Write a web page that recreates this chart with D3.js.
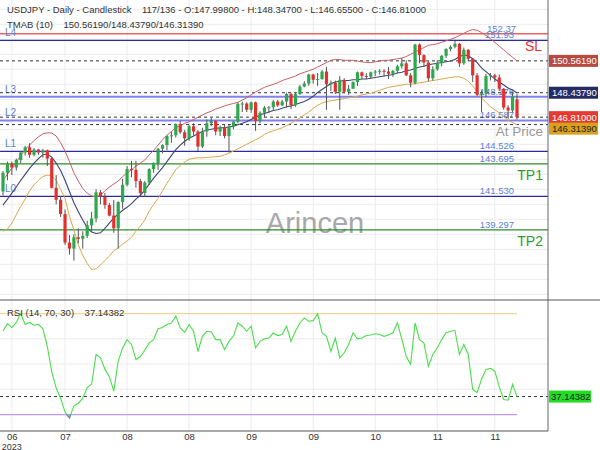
<!DOCTYPE html>
<html><head><meta charset="utf-8">
<script src="https://cdn.jsdelivr.net/npm/d3@7"></script>
<style>body{margin:0;background:#fff}svg{display:block;font-family:"Liberation Sans",Arial,sans-serif}</style>
</head><body><svg id="c" width="600" height="450"></svg>
<script>
// ---------- DATA (USDJPY daily, 117 bars) ----------
const opens = [
141.85,143.10,143.70,143.45,143.95,144.45,144.80,144.30,144.65,144.45,
144.60,144.05,142.10,141.30,140.35,138.45,138.05,138.80,138.70,138.90,
139.60,140.05,141.80,141.50,140.95,140.25,139.40,141.15,142.30,143.35,
143.30,142.55,141.75,142.45,143.35,143.75,144.70,144.95,145.55,145.60,
146.35,145.80,145.40,146.20,145.85,144.85,145.85,146.40,146.55,145.85,
146.15,145.55,146.20,146.50,147.70,147.72,147.30,147.80,146.55,147.10,
147.45,147.47,147.85,147.60,147.85,148.35,147.60,148.35,148.85,149.05,
149.65,149.30,149.35,149.85,149.00,149.10,148.50,149.30,148.50,148.70,
149.15,149.80,149.55,149.50,149.80,149.85,149.90,149.85,149.70,149.90,
150.20,150.40,149.60,149.10,151.65,150.95,150.45,149.40,150.00,150.40,
150.90,151.35,151.50,151.70,150.40,151.30,150.70,149.60,148.30,148.40,
149.55,149.60,149.45,148.70,147.45,147.25,147.998];
const highs = [
143.22,143.85,143.85,144.05,144.55,144.90,145.07,144.75,144.70,144.70,
144.65,144.15,142.95,141.55,140.65,138.95,139.00,139.40,139.20,139.90,
140.50,142.00,141.95,141.75,141.10,141.30,141.20,142.70,143.55,143.90,
143.90,142.70,142.55,143.40,143.80,144.75,145.00,145.60,145.85,146.40,
146.55,145.95,146.30,146.40,145.95,146.10,146.65,146.75,146.60,146.25,
146.30,146.30,146.55,147.80,147.85,147.80,147.85,147.85,147.20,147.55,
147.55,147.95,147.95,147.95,148.45,148.45,148.45,148.95,149.20,149.70,
149.70,149.75,149.95,150.16,149.25,149.25,149.55,149.40,148.95,149.20,
149.85,149.85,149.75,149.85,149.95,150.00,150.00,150.15,149.95,150.30,
150.75,150.60,149.75,151.70,151.72,151.00,150.55,150.20,150.60,150.95,
151.40,151.60,151.90,151.75,151.45,151.35,150.75,149.75,148.60,149.70,
149.75,149.70,149.65,148.75,147.60,148.45,148.347];
const lows = [
141.60,142.60,142.95,143.25,143.75,144.25,144.10,144.20,144.30,144.10,
143.55,142.05,141.00,140.15,138.30,137.65,137.25,138.40,138.05,138.75,
139.20,139.80,141.00,140.70,140.20,139.10,138.05,140.70,142.20,142.80,
142.10,141.55,141.50,142.30,143.10,143.30,144.40,144.60,145.10,145.45,
145.70,144.90,145.25,145.60,144.55,144.75,145.50,146.20,145.60,145.55,
145.40,144.45,146.00,146.40,147.15,147.15,147.10,145.90,146.40,146.80,
147.10,147.30,147.50,147.55,147.45,147.35,147.50,148.30,148.80,148.90,
149.05,148.90,149.30,147.30,148.55,148.35,147.30,148.40,148.30,148.70,
148.90,149.35,149.35,149.40,149.55,149.65,149.55,149.35,149.50,149.75,
150.05,149.55,148.80,149.00,150.40,150.15,149.20,149.25,149.90,150.20,
150.75,151.20,151.40,150.15,150.30,150.55,149.15,148.20,147.15,148.15,
149.25,149.15,148.55,147.30,146.70,147.15,146.655];
const closes = [
143.10,143.70,143.45,143.95,144.45,144.80,144.30,144.65,144.45,144.60,
144.05,142.10,141.30,140.35,138.45,138.05,138.80,138.70,138.90,139.60,
140.05,141.80,141.50,140.95,140.25,139.40,141.15,142.30,143.35,143.30,
142.55,141.75,142.45,143.35,143.75,144.70,144.95,145.55,145.60,146.35,
145.80,145.40,146.20,145.85,144.85,145.85,146.40,146.55,145.85,146.15,
145.55,146.20,146.50,147.70,147.72,147.30,147.80,146.55,147.10,147.45,
147.47,147.85,147.60,147.85,148.35,147.60,148.35,148.85,149.05,149.65,
149.30,149.35,149.85,149.00,149.10,148.50,149.30,148.50,148.70,149.15,
149.80,149.55,149.50,149.80,149.85,149.90,149.85,149.70,149.90,150.20,
150.40,149.60,149.10,151.65,150.95,150.45,149.40,150.00,150.40,150.90,
151.35,151.50,151.70,150.40,151.30,150.70,149.60,148.30,148.40,149.55,
149.60,149.45,148.70,147.45,147.25,148.20,146.81];
const tmabUpper = [
142.6,143.0,143.4,143.8,144.25,144.65,144.95,145.25,145.5,145.7,
145.77,145.75,145.55,145.1,144.55,143.85,143.1,142.55,142.05,141.75,
141.55,141.5,141.6,141.9,142.15,142.35,142.55,142.85,143.1,143.3,
143.55,143.75,143.95,144.3,144.6,144.95,145.3,145.6,145.85,146.1,
146.25,146.4,146.5,146.65,146.8,146.95,147.1,147.2,147.35,147.45,
147.55,147.65,147.72,147.8,147.95,148.1,148.3,148.5,148.65,148.8,
148.9,149.0,149.1,149.25,149.35,149.45,149.55,149.7,149.8,149.9,
150.0,150.15,150.3,150.45,150.6,150.65,150.65,150.6,150.6,150.6,
150.55,150.5,150.45,150.45,150.5,150.55,150.6,150.6,150.65,150.7,
150.75,150.85,151.0,151.15,151.3,151.45,151.6,151.65,151.7,151.8,
151.9,152.0,152.1,152.25,152.4,152.55,152.65,152.6,152.45,152.25,
152.05,151.8,151.55,151.3,151.05,150.8,150.5619];
const tmabMid = [
140.95,141.35,141.75,142.15,142.6,143.0,143.4,143.75,144.05,144.3,
144.35,144.15,143.75,143.25,142.6,141.85,141.1,140.5,139.95,139.45,
139.15,139.05,139.1,139.4,139.75,140.1,140.35,140.6,140.8,141.05,
141.35,141.6,141.95,142.35,142.75,143.1,143.45,143.85,144.25,144.65,
144.95,145.2,145.4,145.55,145.7,145.85,145.95,146.0,146.05,146.1,
146.1,146.15,146.2,146.3,146.4,146.5,146.65,146.8,146.95,147.05,
147.15,147.25,147.3,147.4,147.5,147.55,147.65,147.75,147.85,148.0,
148.2,148.45,148.65,148.85,149.05,149.15,149.2,149.25,149.25,149.3,
149.3,149.35,149.35,149.4,149.45,149.5,149.55,149.6,149.65,149.75,
149.8,149.9,149.95,150.05,150.15,150.2,150.3,150.35,150.4,150.45,
150.5,150.55,150.65,150.85,150.95,150.9,150.7,150.45,150.1,149.85,
149.6,149.35,149.15,148.95,148.75,148.6,148.4379];
const tmabLower = [
139.2,139.35,139.75,140.3,140.85,141.35,141.9,142.3,142.6,142.85,
142.95,142.9,142.6,142.0,141.4,140.2,139.3,138.3,137.6,137.05,
136.65,136.7,136.95,137.25,137.55,137.9,138.1,138.35,138.55,138.8,
139.2,139.55,139.95,140.55,141.0,141.4,141.9,142.4,142.85,143.3,
143.6,143.8,144.0,144.07,144.1,144.1,144.12,144.15,144.17,144.2,
144.3,144.4,144.55,144.7,144.85,145.0,145.15,145.3,145.45,145.65,
145.8,145.9,146.0,146.1,146.25,146.4,146.6,146.75,146.95,147.15,
147.4,147.6,147.75,147.85,147.9,147.95,148.0,148.05,148.1,148.15,
148.2,148.3,148.35,148.4,148.5,148.6,148.7,148.8,148.85,148.9,
148.95,149.0,149.0,149.05,149.1,149.15,149.2,149.25,149.3,149.35,
149.4,149.45,149.5,149.5,149.4,149.2,148.9,148.5,148.1,147.8,
147.5,147.3,147.1,146.85,146.6,146.45,146.3139];
const rsiValues = [
63,66,64.5,66.5,70,65.7,66.5,65.4,65.7,64,
57,47,40.5,36.5,31,28.8,33.4,34.5,36.5,40.7,
42,53.8,52.5,48,45,39.3,51.2,56.4,59.7,57.8,
51.8,53,55.5,58.4,59.7,64,64.5,65.7,66.3,69,
64.3,62.6,65.7,63,55,61,63,62.8,59.7,59.7,
55.8,59,61,66.3,65,63,65,56.4,59,60,
60.3,62.3,61.3,61.7,65,59,63,66.3,68.3,67,
67.2,70,62.4,61,55,60.3,52.5,54.5,57.8,62.4,
60,60.3,61.3,61.5,62,61.7,61,61.5,62.4,66.3,
60,53,49.9,66.3,59.7,58.4,49.2,53.8,56.4,59.7,
62.4,63,63.3,53.8,57.8,53.8,40,38.7,44,47.9,
48.3,47.2,41,36,35.7,42,37.14382];

const levelNames  = ["L4","L3","L2","L1","L0"];
const levelValues = [151.93,148.176,146.587,144.526,141.530];
const levelLabels = ["151.93","148.176","146.587","144.526","141.530"];
const tpNames  = ["TP1","TP2"];
const tpValues = [143.695,139.297];
const tpLabels = ["143.695","139.297"];
const slValue = 152.37, slLabel = "152.37";
const tmabLast = [150.5619,148.4379,146.3139];
const lastClose = 146.81;
const rsiLast = 37.14382;
const priceTicks = d3.range(135,156);
const rsiTicks = [20,30,40,50,60,70];
const dateTickIdx = [2,14,28,42,56,70,84,98,111];
const dateTickLabels = ["06","07","08","08","09","09","10","11","11"];
const headerText = "USDJPY - Daily - Candlestick    117/136 - O:147.99800 - H:148.34700 - L:146.65500 - C:146.81000";
const tmabText = "TMAB (10)    150.56190/148.43790/146.31390";
const rsiText = "RSI (14, 70, 30)    37.14382";

// ---------- LAYOUT ----------
const svg = d3.select('#c');
const AX = 548, MAIN_B = 300, RSI_B = 431;
const x = d3.scaleLinear().domain([0, closes.length-1]).range([3, 517]);
const y = d3.scaleLinear().domain([135,154]).range([294.3, 9.3]);
const yR = d3.scaleLinear().domain([30,70]).range([414.6, 313.6]);
const f5 = d3.format('.5f');

const defs = svg.append('defs');
defs.append('clipPath').attr('id','mc').append('rect').attr('x',0).attr('y',0).attr('width',AX).attr('height',MAIN_B);
defs.append('clipPath').attr('id','rc').append('rect').attr('x',0).attr('y',MAIN_B).attr('width',AX).attr('height',RSI_B-MAIN_B);
defs.append('clipPath').attr('id','amc').append('rect').attr('x',AX).attr('y',0).attr('width',60).attr('height',MAIN_B);
defs.append('clipPath').attr('id','arc').append('rect').attr('x',AX).attr('y',MAIN_B+1).attr('width',60).attr('height',136);
defs.append('clipPath').attr('id','b30').append('rect').attr('x',0).attr('y',yR(30)).attr('width',AX).attr('height',RSI_B-yR(30));

const main = svg.append('g').attr('clip-path','url(#mc)');
const rsiG = svg.append('g').attr('clip-path','url(#rc)');

// grid
main.selectAll('.hg').data(priceTicks).join('line')
  .attr('x1',0).attr('x2',AX).attr('y1',d=>y(d)).attr('y2',d=>y(d))
  .attr('stroke','#ececec').attr('stroke-width',1);
main.selectAll('.vg').data(dateTickIdx).join('line')
  .attr('x1',d=>x(d)).attr('x2',d=>x(d)).attr('y1',0).attr('y2',MAIN_B)
  .attr('stroke','#ececec');
rsiG.selectAll('.hg').data([40,50,60]).join('line')
  .attr('x1',0).attr('x2',AX).attr('y1',d=>yR(d)).attr('y2',d=>yR(d)).attr('stroke','#ececec');
rsiG.selectAll('.vg').data(dateTickIdx).join('line')
  .attr('x1',d=>x(d)).attr('x2',d=>x(d)).attr('y1',MAIN_B).attr('y2',RSI_B).attr('stroke','#ececec');

// watermark
main.append('text').attr('x',315).attr('y',233).attr('text-anchor','middle')
  .attr('font-size',29).attr('fill','#a8a8a8').text('Arincen');

// SL line
main.append('line').attr('x1',0).attr('x2',AX).attr('y1',y(slValue)).attr('y2',y(slValue))
  .attr('stroke','#f06060').attr('stroke-width',1.3);
// level lines
const lvlStyle = i => (i===1||i===2) ? {c:'#8080ee',w:2} : {c:'#2b2ba6',w:1.2};
levelValues.forEach((v,i)=>{
  const s = lvlStyle(i);
  main.append('line').attr('x1',0).attr('x2',AX).attr('y1',y(v)).attr('y2',y(v))
    .attr('stroke',s.c).attr('stroke-width',s.w);
  main.append('text').attr('x',5).attr('y',y(v)-4).attr('font-size',10).attr('fill','#5b7fd6').text(levelNames[i]);
  main.append('text').attr('x',514).attr('y',y(v)-2).attr('text-anchor','end').attr('font-size',9.5).attr('fill','#5b7fd6').text(levelLabels[i]);
});
main.append('text').attr('x',516).attr('y',y(slValue)-2).attr('text-anchor','end').attr('font-size',9.5).attr('fill','#5b7fd6').text(slLabel);
tpValues.forEach((v,i)=>{
  main.append('line').attr('x1',0).attr('x2',AX).attr('y1',y(v)).attr('y2',y(v))
    .attr('stroke','#2e8b2e').attr('stroke-width',1.2);
  main.append('text').attr('x',514).attr('y',y(v)-2).attr('text-anchor','end').attr('font-size',9.5).attr('fill','#5b7fd6').text(tpLabels[i]);
  main.append('text').attr('x',543).attr('y',y(v)+16).attr('text-anchor','end').attr('font-size',14).attr('fill','#2e9a2e').text(tpNames[i]);
});
main.append('text').attr('x',542).attr('y',y(slValue)+17).attr('text-anchor','end').attr('font-size',14).attr('fill','#e83030').text('SL');
main.append('text').attr('x',543).attr('y',136).attr('text-anchor','end').attr('font-size',13.5).attr('fill','#9a9a9a').text('At Price');

// dashed lines
[...tmabLast, lastClose].forEach(v=>{
  main.append('line').attr('x1',0).attr('x2',AX).attr('y1',y(v)).attr('y2',y(v))
    .attr('stroke','#333').attr('stroke-width',1).attr('stroke-dasharray','3,3');
});

// TMAB bands
const bandLine = d3.line().x((d,i)=>x(i)).y(d=>y(d));
main.append('path').attr('d',bandLine(tmabUpper)).attr('fill','none').attr('stroke','#c86060').attr('stroke-width',1);
main.append('path').attr('d',bandLine(tmabLower)).attr('fill','none').attr('stroke','#d9a84a').attr('stroke-width',1);
main.append('path').attr('d',bandLine(tmabMid)).attr('fill','none').attr('stroke','#3d4575').attr('stroke-width',1.1);

// candles
const idx = d3.range(closes.length);
const up = '#2ea84c', dn = '#e3302f';
main.selectAll('.wick').data(idx).join('line')
  .attr('x1',i=>x(i)).attr('x2',i=>x(i)).attr('y1',i=>y(highs[i])).attr('y2',i=>y(lows[i]))
  .attr('stroke','#555').attr('stroke-width',1);
main.selectAll('.body').data(idx).join('rect')
  .attr('x',i=>x(i)-1.6).attr('width',3.2)
  .attr('y',i=>y(Math.max(opens[i],closes[i])))
  .attr('height',i=>Math.max(1,Math.abs(y(opens[i])-y(closes[i]))))
  .attr('fill',i=>closes[i]>=opens[i]?up:dn);

// RSI
rsiG.append('line').attr('x1',0).attr('x2',517).attr('y1',yR(70)).attr('y2',yR(70)).attr('stroke','#f5d590').attr('stroke-width',1.3);
rsiG.append('line').attr('x1',0).attr('x2',517).attr('y1',yR(30)).attr('y2',yR(30)).attr('stroke','#c49af0').attr('stroke-width',1.3);
rsiG.append('line').attr('x1',0).attr('x2',AX).attr('y1',yR(rsiLast)).attr('y2',yR(rsiLast))
  .attr('stroke','#333').attr('stroke-dasharray','3,3');
const rsiLine = d3.line().x((d,i)=>x(i)).y(d=>yR(d));
rsiG.append('path').attr('d',rsiLine(rsiValues)).attr('fill','none').attr('stroke','#4ade4a').attr('stroke-width',1.1);
svg.append('path').attr('clip-path','url(#b30)').attr('d',rsiLine(rsiValues)).attr('fill','none').attr('stroke','#7090b0').attr('stroke-width',1.6);

// frame lines
svg.append('line').attr('x1',AX).attr('x2',AX).attr('y1',0).attr('y2',RSI_B).attr('stroke','#666');
svg.append('line').attr('x1',0).attr('x2',600).attr('y1',MAIN_B).attr('y2',MAIN_B).attr('stroke','#555');
svg.append('line').attr('x1',0).attr('x2',AX).attr('y1',RSI_B).attr('y2',RSI_B).attr('stroke','#555');

// price axis
const pAx = svg.append('g').attr('clip-path','url(#amc)').attr('transform',`translate(${AX},0)`)
  .call(d3.axisRight(y).tickValues(priceTicks).tickFormat(f5).tickSize(0).tickPadding(5));
pAx.select('.domain').remove();
pAx.selectAll('text').attr('font-size',9.5).attr('fill','#333').attr('font-family','"Liberation Sans",Arial,sans-serif');
const rAx = svg.append('g').attr('clip-path','url(#arc)').attr('transform',`translate(${AX},0)`)
  .call(d3.axisRight(yR).tickValues(rsiTicks).tickFormat(f5).tickSize(0).tickPadding(5));
rAx.select('.domain').remove();
rAx.selectAll('text').attr('font-size',9.5).attr('fill','#333').attr('font-family','"Liberation Sans",Arial,sans-serif');

// price boxes
const boxes = [
  {v:tmabLast[0], bg:'#b84a40', fg:'#fff'},
  {v:tmabLast[1], bg:'#262b66', fg:'#fff'},
  {v:lastClose,   bg:'#e63a30', fg:'#fff'},
  {v:tmabLast[2], bg:'#d9a21e', fg:'#222'}
];
let prevY = -100;
boxes.forEach(b=>{
  let cy = y(b.v);
  if (cy < prevY + 11.5) cy = prevY + 11.5;
  prevY = cy;
  svg.append('rect').attr('x',AX+1).attr('y',cy-6).attr('width',49).attr('height',12).attr('fill',b.bg);
  svg.append('text').attr('x',AX+4).attr('y',cy+3.5).attr('font-size',9.5).attr('fill',b.fg).text(f5(b.v));
});
svg.append('rect').attr('x',AX+1).attr('y',yR(rsiLast)-6).attr('width',42).attr('height',12).attr('fill','#22dd22');
svg.append('text').attr('x',AX+3).attr('y',yR(rsiLast)+3.5).attr('font-size',9.5).attr('fill','#222').text(d3.format('.5f')(rsiLast).slice(0,8));

// x axis labels
const xAx = svg.append('g').attr('transform',`translate(0,${RSI_B})`)
  .call(d3.axisBottom(x).tickValues(dateTickIdx).tickFormat((d,i)=>dateTickLabels[i]).tickSize(0).tickPadding(2));
xAx.select('.domain').remove();
xAx.selectAll('text').attr('font-size',9.5).attr('fill','#333').attr('font-family','"Liberation Sans",Arial,sans-serif');
svg.append('text').attr('x',x(dateTickIdx[0])).attr('y',449.5).attr('text-anchor','middle').attr('font-size',9).attr('fill','#333').text('2023');

// headers
svg.append('text').attr('x',7).attr('y',13).attr('font-size',9.5).attr('fill','#333').style('white-space','pre').text(headerText);
svg.append('text').attr('x',7).attr('y',28).attr('font-size',9.5).attr('fill','#333').style('white-space','pre').text(tmabText);
svg.append('text').attr('x',7).attr('y',316).attr('font-size',9.5).attr('fill','#333').style('white-space','pre').text(rsiText);
</script></body></html>
